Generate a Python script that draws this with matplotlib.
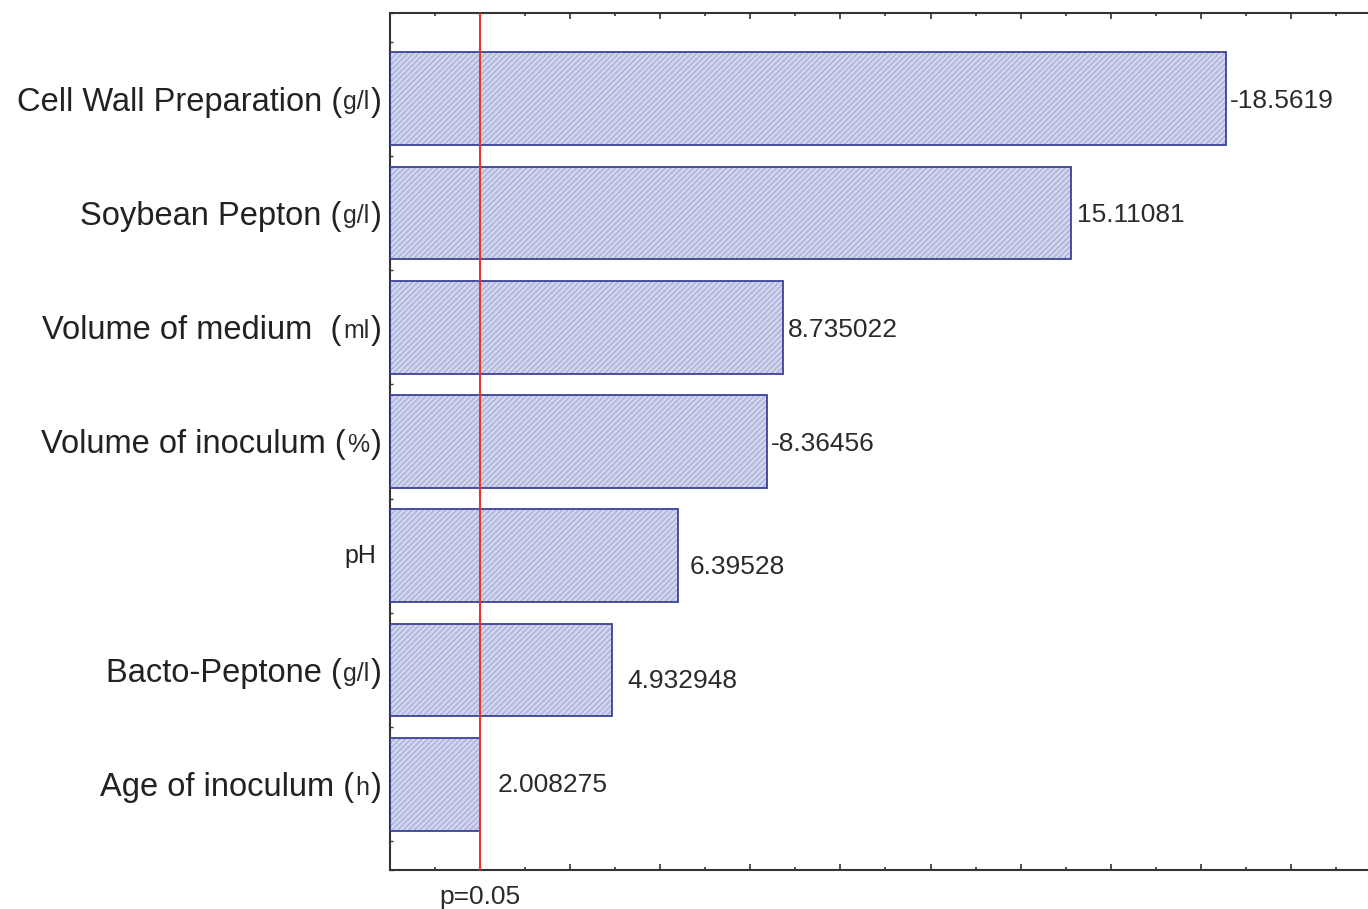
import matplotlib.pyplot as plt
from matplotlib.ticker import MultipleLocator
import numpy as np

plt.rcParams['font.family'] = ['Liberation Sans', 'DejaVu Sans']

# factor names, units and standardized effect estimates
factors = ['Cell Wall Preparation', 'Soybean Pepton', 'Volume of medium ',
           'Volume of inoculum', 'pH', 'Bacto-Peptone', 'Age of inoculum']
units = ['g/l', 'g/l', 'ml', '%', '', 'g/l', 'h']
effects = [-18.5619, 15.11081, 8.735022, -8.36456, 6.39528, 4.932948, 2.008275]
effect_labels = ['-18.5619', '15.11081', '8.735022', '-8.36456', '6.39528', '4.932948', '2.008275']
p_limit = 2.0

fig = plt.figure(figsize=(13.68, 9.09), dpi=100)
ax = fig.add_axes([390 / 1368, 39 / 909, 1000 / 1368, 857 / 909])

y = np.arange(len(factors))
size = np.abs(effects)
# hatched fill, then outline
ax.barh(y, size, height=0.81, color='#d3d6ef', hatch='//////', edgecolor='#aab0d8', linewidth=0, zorder=2)
ax.barh(y, size, height=0.81, color='none', edgecolor='#3c4296', linewidth=1.3, zorder=3)

ax.axvline(p_limit, color='#e8342c', linewidth=1.5, zorder=4)

ax.set_xlim(0, 22.2)
ax.set_ylim(len(factors) - 0.25, -0.75)

# value labels
label_dx = [3, 4.5, 3.5, 3, 8, 11, 12.5]
label_dy = [0, 0, 0, 0, -6.5, -6, 1.5]
for i in range(len(effects)):
    ax.annotate(effect_labels[i], xy=(size[i], y[i]), xytext=(label_dx[i], label_dy[i]),
                textcoords='offset points', ha='left', va='center_baseline', fontsize=19, color='#2b2b2b')

# category labels with smaller units
ax.set_yticks([])
ax.yaxis.set_minor_locator(MultipleLocator(0.25))
tr = ax.get_yaxis_transform()
for i in range(len(factors)):
    if units[i] == '':
        ax.annotate(factors[i], xy=(0, y[i]), xycoords=tr, xytext=(-10, 0), textcoords='offset points',
                    ha='right', va='center', fontsize=18, color='#222222')
        continue
    rp = ax.annotate(')', xy=(0, y[i]), xycoords=tr, xytext=(-6, 0), textcoords='offset points',
                     ha='right', va='center_baseline', fontsize=23.5, color='#222222')
    un = ax.annotate(units[i], xy=(0, 0.5), xycoords=rp, xytext=(-1, 0), textcoords='offset points',
                     ha='right', va='center', fontsize=18, color='#2b2b2b')
    ax.annotate(factors[i] + ' (', xy=(0, 0.5), xycoords=un, xytext=(-1, 0), textcoords='offset points',
                ha='right', va='center', fontsize=23.5, color='#222222')

ax.xaxis.set_major_locator(MultipleLocator(2))
ax.xaxis.set_minor_locator(MultipleLocator(1))
ax.tick_params(axis='x', which='both', direction='in', top=True, bottom=True, labelbottom=False,
               width=1.2, color='#333333')
ax.tick_params(axis='x', which='major', length=4)
ax.tick_params(axis='x', which='minor', length=2.5)
ax.tick_params(axis='y', which='minor', direction='in', left=True, right=False, length=2.5, width=1,
               color='#333333')
ax.tick_params(axis='y', which='major', left=False)

ax.annotate('p=0.05', xy=(p_limit, 0), xycoords=ax.get_xaxis_transform(), xytext=(0, -11),
            textcoords='offset points', ha='center', va='top', fontsize=19, color='#2b2b2b')

for s in ['left', 'top', 'bottom']:
    ax.spines[s].set_linewidth(1.5)
    ax.spines[s].set_color('#333333')
ax.spines['right'].set_visible(False)

fig.savefig('out.png', dpi=100)
